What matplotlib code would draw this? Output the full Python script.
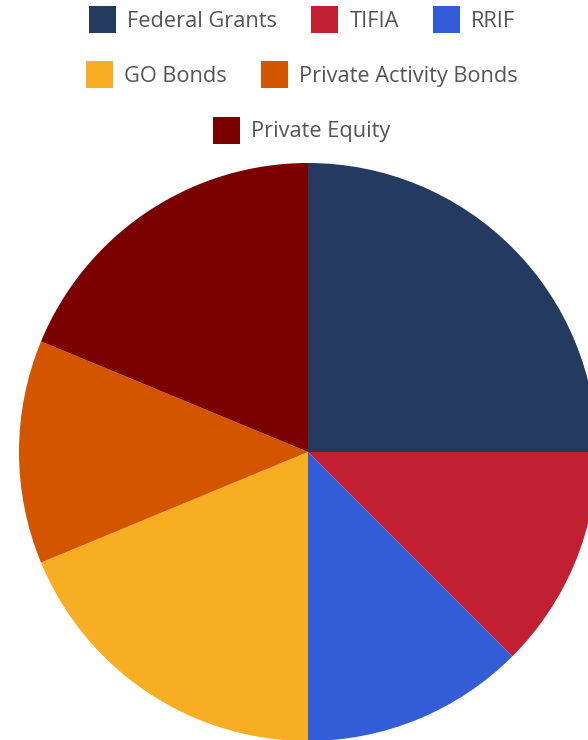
import matplotlib.pyplot as plt
from matplotlib.patches import Rectangle

# funding sources and their shares
labels = ["Federal Grants", "TIFIA", "RRIF", "GO Bonds",
          "Private Activity Bonds", "Private Equity"]
values = [4, 2, 2, 3, 2, 3]
colors = ["#243a5e", "#c12032", "#335dd8", "#f8ae22", "#d45500", "#7b0100"]

# legend rows as in the reference
rows = [[0, 1, 2], [3, 4], [5]]

plt.rcParams['font.family'] = ['Open Sans', 'DejaVu Sans']

W, H = 588, 740
fig = plt.figure(figsize=(W / 100, H / 100), dpi=100)

# pie centre and radius in pixels
cx, cy, r = 308, 452, 289
ax = fig.add_axes([(cx - r) / W, (H - cy - r) / H, 2 * r / W, 2 * r / H])
ax.pie(values, colors=colors, startangle=90, counterclock=False,
       radius=1, wedgeprops=dict(linewidth=0))
ax.set_xlim(-1, 1)
ax.set_ylim(-1, 1)
ax.set_aspect('equal')
ax.axis('off')

# legend drawn by hand so that rows wrap and centre like the original
renderer = fig.canvas.get_renderer()
sw, pad, gap = 27, 11, 34
row_y = [19.5, 74.5, 130]
legend_cx = 302
for row, y in zip(rows, row_y):
    texts = []
    for i in row:
        t = fig.text(0, 1 - (y + 7.5) / H, labels[i], fontsize=15.7,
                     color='#555555', va='baseline', ha='left')
        texts.append(t)
    widths = [t.get_window_extent(renderer).width for t in texts]
    total = sum(sw + pad + w for w in widths) + gap * (len(row) - 1)
    x = legend_cx - total / 2
    for i, t, w in zip(row, texts, widths):
        fig.patches.append(Rectangle((x / W, 1 - (y + sw / 2) / H), sw / W, sw / H,
                                     transform=fig.transFigure, facecolor=colors[i],
                                     edgecolor='none'))
        t.set_x((x + sw + pad) / W)
        x += sw + pad + w + gap

fig.savefig("out.png", dpi=100)
